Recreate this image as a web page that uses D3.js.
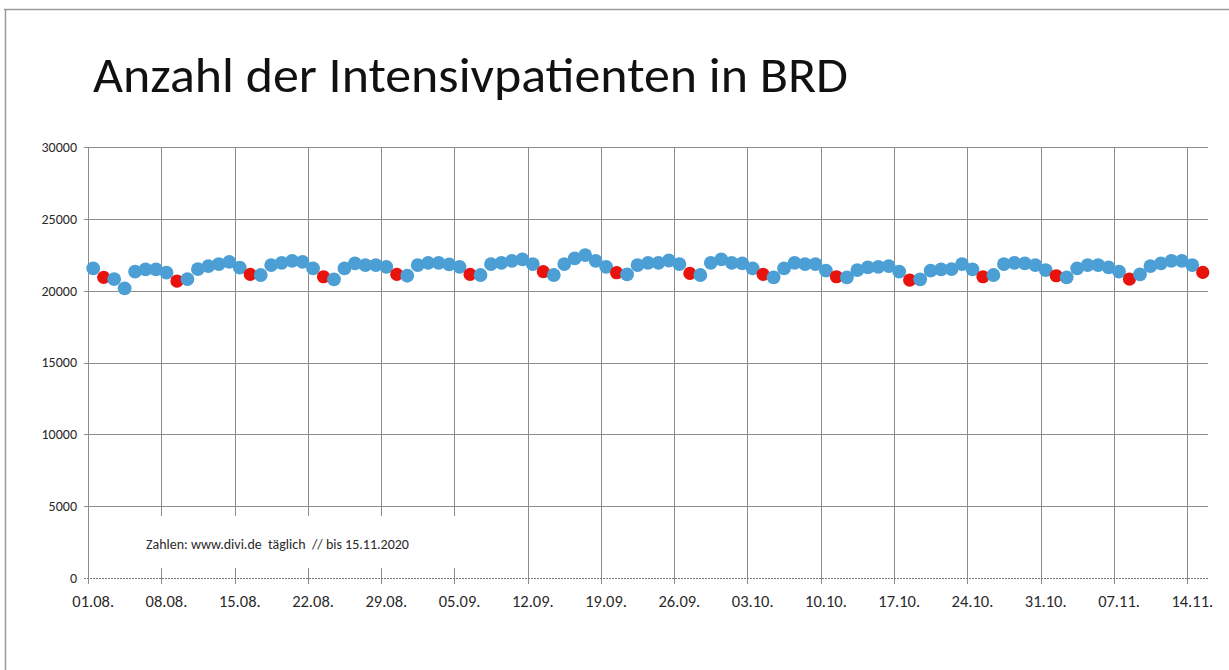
<!DOCTYPE html>
<html>
<head>
<meta charset="utf-8">
<script src="https://cdn.jsdelivr.net/npm/d3@7"></script>
<style>
  html, body { margin: 0; padding: 0; background: #fff; }
  svg { display: block; }
</style>
</head>
<body>
<svg id="chart" width="1229" height="670"></svg>
<script>
// ---- data ----
const dayCount = 107; // 01.08.2020 .. 15.11.2020
const dates = d3.timeDay.range(new Date(2020, 7, 1), new Date(2020, 7, 1 + dayCount));
const patients = [
  21550, 20930, 20810, 20160, 21320, 21480, 21480,
  21250, 20670, 20810, 21500, 21710, 21850, 22010,
  21600, 21130, 21090, 21780, 21940, 22080, 22010,
  21550, 20970, 20790, 21550, 21900, 21780, 21780,
  21660, 21130, 21040, 21780, 21940, 21940, 21830,
  21660, 21130, 21090, 21850, 21940, 22080, 22180,
  21850, 21320, 21090, 21850, 22250, 22480, 22080,
  21660, 21250, 21130, 21780, 21940, 21940, 22100,
  21850, 21200, 21090, 21940, 22180, 21940, 21900,
  21550, 21130, 20930, 21550, 21940, 21850, 21850,
  21390, 20970, 20930, 21430, 21620, 21660, 21710,
  21320, 20740, 20790, 21390, 21480, 21500, 21850,
  21480, 20970, 21090, 21850, 21940, 21900, 21780,
  21430, 21040, 20930, 21550, 21780, 21780, 21620,
  21320, 20810, 21130, 21710, 21900, 22080, 22080,
  21780, 21270
];
const xTickLabels = ["01.08.", "08.08.", "15.08.", "22.08.", "29.08.", "05.09.", "12.09.", "19.09.",
  "26.09.", "03.10.", "10.10.", "17.10.", "24.10.", "31.10.", "07.11.", "14.11."];
const yTicks = [0, 5000, 10000, 15000, 20000, 25000, 30000];
const titleText = "Anzahl der Intensivpatienten in BRD";
const noteText = "Zahlen: www.divi.de  täglich  // bis 15.11.2020";

// ---- layout ----
const svg = d3.select("#chart");
const pLeft = 88, pRight = 1208, pTop = 147, pBottom = 578;
const gridColor = "#8c8c8c";
const textColor = "#2a2a2a";
const fontFam = "Carlito, 'Open Sans', sans-serif";

const idx = d3.range(patients.length);
const x = d3.scaleBand().domain(idx).range([pLeft, pRight]).padding(0);
const y = d3.scaleLinear().domain([0, 30000]).range([pBottom, pTop]);
const bw = x.bandwidth();

// frame (scanned page border)
svg.append("line").attr("x1", 4).attr("x2", 1229).attr("y1", 9.5).attr("y2", 9.5)
  .attr("stroke", "#9a9a9a").attr("stroke-width", 1.5);
svg.append("line").attr("x1", 5.5).attr("x2", 5.5).attr("y1", 9).attr("y2", 670)
  .attr("stroke", "#9a9a9a").attr("stroke-width", 1.5);

// title
svg.append("text")
  .attr("x", 93).attr("y", 92)
  .attr("font-family", fontFam).attr("font-size", 50)
  .attr("fill", "#111")
  .attr("textLength", 755).attr("lengthAdjust", "spacingAndGlyphs")
  .text(titleText);

// horizontal gridlines (non-zero)
svg.append("g").selectAll("line").data(yTicks.filter(d => d > 0)).join("line")
  .attr("x1", pLeft - 4).attr("x2", pRight)
  .attr("y1", d => Math.round(y(d)) + 0.5).attr("y2", d => Math.round(y(d)) + 0.5)
  .attr("stroke", gridColor).attr("stroke-width", 1);

// vertical gridlines at week boundaries
const weekIdx = xTickLabels.map((_, k) => k * 7);
svg.append("g").selectAll("line").data(weekIdx).join("line")
  .attr("x1", d => Math.round(x(d)) + 0.5).attr("x2", d => Math.round(x(d)) + 0.5)
  .attr("y1", y(30000)).attr("y2", pBottom + 6)
  .attr("stroke", gridColor).attr("stroke-width", 1);

// zero axis (dotted)
svg.append("line").attr("x1", pLeft - 4).attr("x2", pRight)
  .attr("y1", Math.round(y(0)) + 0.5).attr("y2", Math.round(y(0)) + 0.5)
  .attr("stroke", "#7a7a7a").attr("stroke-width", 1.2).attr("stroke-dasharray", "2,1");

// note box (white, covers gridlines)
svg.append("rect").attr("x", pLeft + 3).attr("y", 516).attr("width", 430).attr("height", 52)
  .attr("fill", "#fff");
svg.append("line").attr("x1", pLeft + 0.5).attr("x2", pLeft + 0.5)
  .attr("y1", y(30000)).attr("y2", pBottom + 6)
  .attr("stroke", gridColor).attr("stroke-width", 1);
svg.append("text").attr("x", 146).attr("y", 549)
  .attr("font-family", fontFam).attr("font-size", 14).attr("fill", textColor)
  .attr("xml:space", "preserve")
  .text(noteText);

// y labels
svg.append("g").selectAll("text").data(yTicks).join("text")
  .attr("x", 77).attr("y", d => y(d)).attr("dy", "0.35em")
  .attr("text-anchor", "end")
  .attr("font-family", fontFam).attr("font-size", 14).attr("fill", textColor)
  .text(d => d);

// x labels
svg.append("g").selectAll("text").data(xTickLabels).join("text")
  .attr("x", (d, k) => x(k * 7) + bw / 2).attr("y", 607)
  .attr("text-anchor", "middle")
  .attr("font-family", fontFam).attr("font-size", 16.5).attr("fill", textColor)
  .text(d => d);

// points
svg.append("g").selectAll("circle").data(idx).join("circle")
  .attr("cx", i => x(i) + bw / 2)
  .attr("cy", i => y(patients[i]))
  .attr("r", i => dates[i].getDay() === 0 ? 6.6 : 6.9)
  .attr("fill", i => dates[i].getDay() === 0 ? "#e8130d" : "#4c9fd5");
</script>
</body>
</html>
